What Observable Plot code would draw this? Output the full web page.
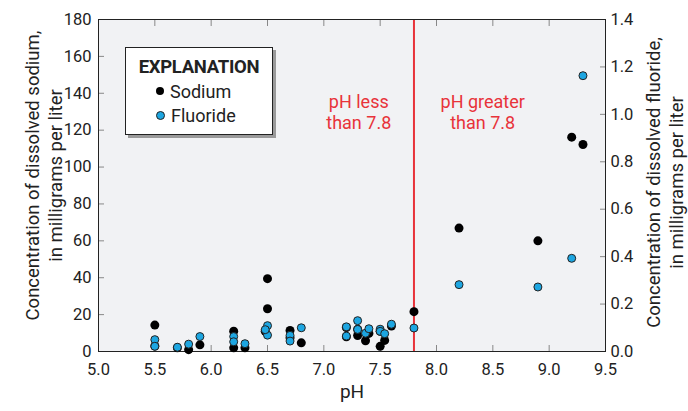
<!DOCTYPE html>
<html>
<head>
<meta charset="utf-8">
<script src="https://cdn.jsdelivr.net/npm/d3@7"></script>
<script src="https://cdn.jsdelivr.net/npm/@observablehq/plot@0.6"></script>
<style>
  html, body { margin: 0; padding: 0; background: #fff; }
  #wrap { position: relative; width: 688px; height: 411px; font-family: Roboto, "Liberation Sans", sans-serif; color: #222; }
  #legend { position: absolute; left: 125px; top: 47px; width: 146px; height: 86px; background: #fff; border: 1px solid #222; box-shadow: 3px 3px 0 #9a9a9a; }
  #legend .t { position: absolute; left: 0; width: 100%; top: 8px; text-align: center; font-weight: bold; font-size: 18.5px; letter-spacing: -0.3px; }
  #legend .row { position: absolute; left: 30px; font-size: 18px; }
  #legend .dot { display: inline-block; width: 8px; height: 8px; border-radius: 50%; margin-right: 6px; vertical-align: middle; position: relative; top: -2px; }
</style>
</head>
<body>
<div id="wrap"></div>
<script>
// ---- data ----
const samplePH = [5.5, 5.5, 5.7, 5.8, 5.9, 6.2, 6.2, 6.3, 6.5, 6.5, 6.48, 6.7, 6.7, 6.8, 7.2, 7.2, 7.3, 7.3, 7.37, 7.4, 7.5, 7.5, 7.54, 7.6, 7.8, 8.2, 8.9, 9.2, 9.3];
const sodium = [14.3, 3, 2, 1, 3.6, 11, 2, 2, 39.5, 23.2, 11, 11.4, 7.5, 4.7, 13, 8, 8.7, 12, 5.8, 9.8, 2.8, 11, 6, 13.8, 21.6, 66.9, 60, 116.2, 112.2];
const fluoride = [0.05, 0.022, 0.018, 0.031, 0.063, 0.063, 0.041, 0.033, 0.109, 0.069, 0.092, 0.068, 0.044, 0.10, 0.104, 0.065, 0.13, 0.093, 0.077, 0.096, 0.094, 0.085, 0.075, 0.115, 0.099, 0.282, 0.272, 0.393, 1.163];
const xTicks = [5.0, 5.5, 6.0, 6.5, 7.0, 7.5, 8.0, 8.5, 9.0, 9.5];
const sodiumTicks = [0, 20, 40, 60, 80, 100, 120, 140, 160, 180];
const fluorideTicks = [0.0, 0.2, 0.4, 0.6, 0.8, 1.0, 1.2, 1.4];
const thresholdPH = [7.8];
const regionText = ["pH less\nthan 7.8", "pH greater\nthan 7.8"];
const regionPH = [7.31, 8.41];
const regionY = [130, 130];

const ratio = 180 / 1.4;
const samples = samplePH.map((p, i) => ({ pH: p, na: sodium[i], f: fluoride[i] * ratio }));
const regions = regionText.map((t, i) => ({ t, x: regionPH[i], y: regionY[i] }));
const innerX = xTicks.slice(1, -1);
const innerY = sodiumTicks.slice(1, -1);
const innerF = fluorideTicks.slice(1, -1).map(v => v * ratio);

const red = "#e8333a";
const blue = "#1da6e1";
const tickGrey = "#888";
const font = 'Roboto, "Liberation Sans", sans-serif';

const chart = Plot.plot({
  width: 688, height: 411,
  marginLeft: 98, marginRight: 83, marginTop: 19, marginBottom: 60,
  style: { fontFamily: font, fontSize: "16px", background: "white", color: "#222", overflow: "visible" },
  x: { domain: [5, 9.5] },
  y: { domain: [0, 180] },
  marks: [
    Plot.frame({ fill: "#f1f2f4" }),
    Plot.axisX({ ticks: xTicks, tickSize: 0, tickPadding: 12, tickFormat: d => d.toFixed(1), label: null, fontSize: 16.5 }),
    Plot.axisX({ ticks: innerX, tickSize: -6, tickFormat: () => "", label: null, stroke: tickGrey }),
    Plot.axisX({ anchor: "top", ticks: innerX, tickSize: -6, tickFormat: () => "", label: null, stroke: tickGrey }),
    Plot.axisY({ ticks: sodiumTicks, tickSize: 0, tickPadding: 7, label: null, fontSize: 16.5 }),
    Plot.axisY({ ticks: innerY, tickSize: -6, tickFormat: () => "", label: null, stroke: tickGrey }),
    Plot.axisY({ anchor: "right", ticks: fluorideTicks.map(v => v * ratio), tickSize: 0, tickPadding: 5, tickFormat: d => (d / ratio).toFixed(1), label: null, fontSize: 16.5 }),
    Plot.axisY({ anchor: "right", ticks: innerF, tickSize: -6, tickFormat: () => "", label: null, stroke: tickGrey }),
    Plot.ruleX(thresholdPH, { stroke: red, strokeWidth: 2 }),
    Plot.frame({ stroke: "#222" }),
    Plot.dot(samples, { x: "pH", y: "na", r: 4.5, fill: "black" }),
    Plot.dot(samples, { x: "pH", y: "f", r: 4, fill: blue, stroke: "#222", strokeWidth: 1 }),
    Plot.text(regions, { x: "x", y: "y", text: "t", fill: red, fontSize: 18, lineHeight: 1.2 }),
    Plot.text(["Concentration of dissolved sodium,\nin milligrams per liter"], { frameAnchor: "left", textAnchor: "middle", dx: -55, dy: -10, rotate: -90, fontSize: 18.5, lineHeight: 1.25, fill: "#222" }),
    Plot.text(["Concentration of dissolved fluoride,\nin milligrams per liter"], { frameAnchor: "right", textAnchor: "middle", dx: 59, dy: -3, rotate: -90, fontSize: 18.5, lineHeight: 1.25, fill: "#222" }),
    Plot.text(["pH"], { frameAnchor: "bottom", dy: 46, fontSize: 19, fill: "#222" })
  ]
});

const wrap = document.getElementById("wrap");
wrap.appendChild(chart);
const legend = document.createElement("div");
legend.id = "legend";
legend.innerHTML = `<div class="t">EXPLANATION</div>
<div class="row" style="top:33px"><span class="dot" style="background:#000"></span>Sodium</div>
<div class="row" style="top:57px"><span class="dot" style="background:${blue};border:1px solid #222;width:7px;height:7px"></span>Fluoride</div>`;
wrap.appendChild(legend);
</script>
</body>
</html>
